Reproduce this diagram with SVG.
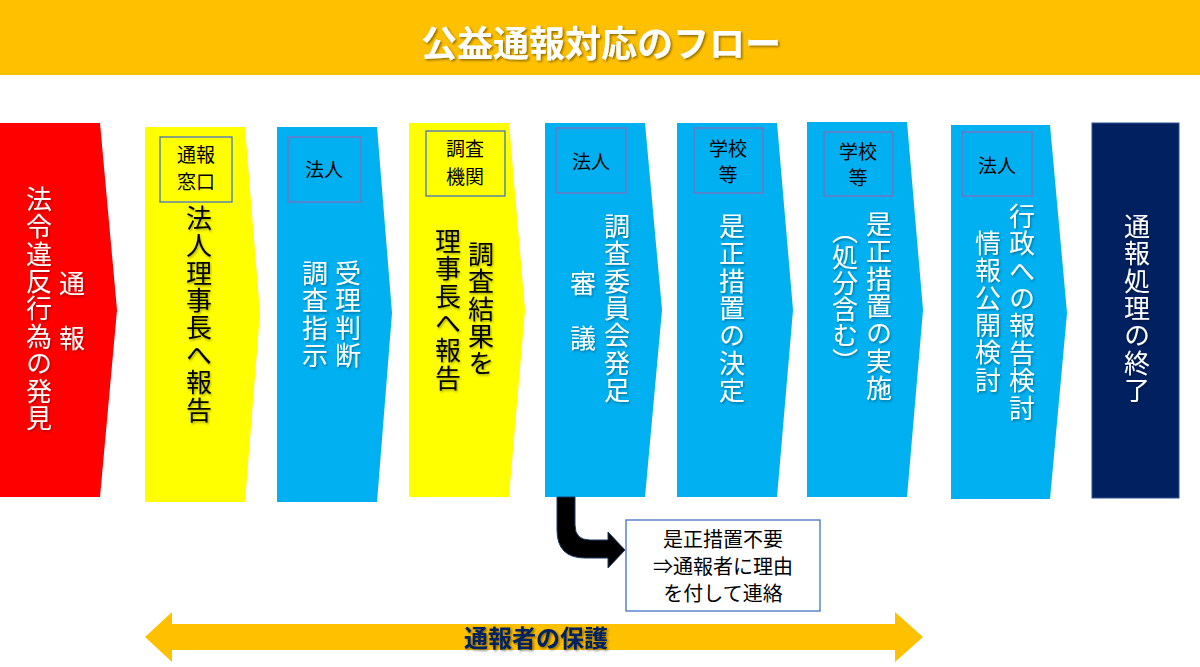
<svg xmlns="http://www.w3.org/2000/svg" width="1200" height="667" viewBox="0 0 1200 667">
<defs>
<filter id="sh" x="-20%" y="-20%" width="140%" height="140%">
<feDropShadow dx="1.5" dy="1.5" stdDeviation="1" flood-color="#000" flood-opacity="0.45"/>
</filter>
<filter id="shw" x="-20%" y="-20%" width="140%" height="140%">
<feDropShadow dx="1" dy="1.5" stdDeviation="1" flood-color="#000" flood-opacity="0.35"/>
</filter>
</defs>
<style>
.v{font-family:"Noto Sans CJK JP","Noto Sans CJK SC",sans-serif;font-size:26px;writing-mode:vertical-rl;letter-spacing:1.4px;}
.w{fill:#fff;filter:url(#shw);}
.k{fill:#000;filter:url(#shw);}
.lb{font-family:"Noto Sans CJK JP","Noto Sans CJK SC",sans-serif;font-size:19px;fill:#000;text-anchor:middle;}
.bx{fill:none;stroke-width:1.3;}
.bb{stroke:#4472C4;}
.bp{stroke:#7F6FBF;}
.blue{fill:#00B0F0;}
.yel{fill:#FFFF00;}
.note{font-family:"Noto Sans CJK JP","Noto Sans CJK SC",sans-serif;font-size:20px;fill:#000;text-anchor:middle;}
</style>
<rect width="1200" height="667" fill="#fff"/>
<g id="title">
<rect x="0" y="0" width="1200" height="75" fill="#FFC000"/>
<text x="601" y="57" text-anchor="middle" font-family="'Noto Sans CJK JP','Noto Sans CJK SC',sans-serif" font-size="36" font-weight="bold" fill="#fff" filter="url(#sh)">公益通報対応のフロー</text>
</g>
<g id="step1">
<polygon points="0,123 100,123 117,310 100,497 0,497" fill="#FF0000"/>
<text class="v w" x="39" y="186">法令違反行為の発見</text>
<text class="v w" x="72" y="270">通　報</text>
</g>
<g id="step2">
<polygon class="yel" points="145,127 245,127 260,313 245,502 145,502"/>
<rect class="bx bb" x="160" y="137" width="72" height="65"/>
<text class="lb" x="196" y="162">通報</text>
<text class="lb" x="196" y="189">窓口</text>
<text class="v k" x="199" y="205">法人理事長へ報告</text>
</g>
<g id="step3">
<polygon class="blue" points="277,127 377,127 392,313 377,502 277,502"/>
<rect class="bx bp" x="288" y="137" width="73" height="65"/>
<text class="lb" x="324" y="177">法人</text>
<text class="v w" x="348" y="260">受理判断</text>
<text class="v w" x="315" y="260">調査指示</text>
</g>
<g id="step4">
<polygon class="yel" points="409,123 509,123 525,310 509,497 409,497"/>
<rect class="bx bb" x="426" y="131" width="79" height="65"/>
<text class="lb" x="465" y="156">調査</text>
<text class="lb" x="465" y="184">機関</text>
<text class="v k" x="481" y="241">調査結果を</text>
<text class="v k" x="448" y="228">理事長へ報告</text>
</g>
<g id="step5">
<polygon class="blue" points="545,123 645,123 662,310 645,497 545,497"/>
<rect class="bx bp" x="556" y="128" width="70" height="65"/>
<text class="lb" x="591" y="169">法人</text>
<text class="v w" x="617" y="213">調査委員会発足</text>
<text class="v w" x="583" y="270">審　議</text>
</g>
<g id="step6">
<polygon class="blue" points="677,123 777,123 793,310 777,497 677,497"/>
<rect class="bx bp" x="694" y="128" width="69" height="65"/>
<text class="lb" x="728" y="156">学校</text>
<text class="lb" x="728" y="182">等</text>
<text class="v w" x="732" y="213">是正措置の決定</text>
</g>
<g id="step7">
<polygon class="blue" points="807,122 907,122 923,310 907,497 807,497"/>
<rect class="bx bp" x="824" y="132" width="69" height="64"/>
<text class="lb" x="858" y="159">学校</text>
<text class="lb" x="858" y="185">等</text>
<text class="v w" x="879" y="211">是正措置の実施</text>
<text class="v w" x="845" y="218" style="letter-spacing:0px">（処分含む）</text>
</g>
<g id="step8">
<polygon class="blue" points="951,125 1050,125 1067,313 1050,499 951,499"/>
<rect class="bx bp" x="962" y="132" width="70" height="64"/>
<text class="lb" x="997" y="173">法人</text>
<text class="v w" x="1022" y="203">行政への報告検討</text>
<text class="v w" x="988" y="230">情報公開検討</text>
</g>
<g id="step9">
<rect x="1092" y="123" width="87" height="375" fill="#002060" stroke="#2F528F" stroke-width="1"/>
<text class="v w" x="1137" y="213">通報処理の終了</text>
</g>
<g id="note">
<rect x="626" y="520" width="194" height="91" fill="#fff" stroke="#4472C4" stroke-width="1.3"/>
<text class="note" x="723" y="547">是正措置不要</text>
<text class="note" x="723" y="574">⇒通報者に理由</text>
<text class="note" x="723" y="601">を付して連絡</text>
</g>
<g id="connectors">
<path d="M557,497 L557,530 Q557,558 585,558 L608,558 L608,568 L625,550 L608,532 L608,540 L590,540 Q575,540 575,525 L575,497 Z" fill="#000" stroke="#1F3864" stroke-width="1"/>
</g>
<g id="protection">
<polygon points="145,637 172,612 172,624 895,624 895,612 923,637 895,662 895,650 172,650 172,662" fill="#FFC000"/>
<text x="536" y="647" text-anchor="middle" font-family="'Noto Sans CJK JP','Noto Sans CJK SC',sans-serif" font-size="24" font-weight="bold" fill="#002060" filter="url(#sh)">通報者の保護</text>
</g>
</svg>
